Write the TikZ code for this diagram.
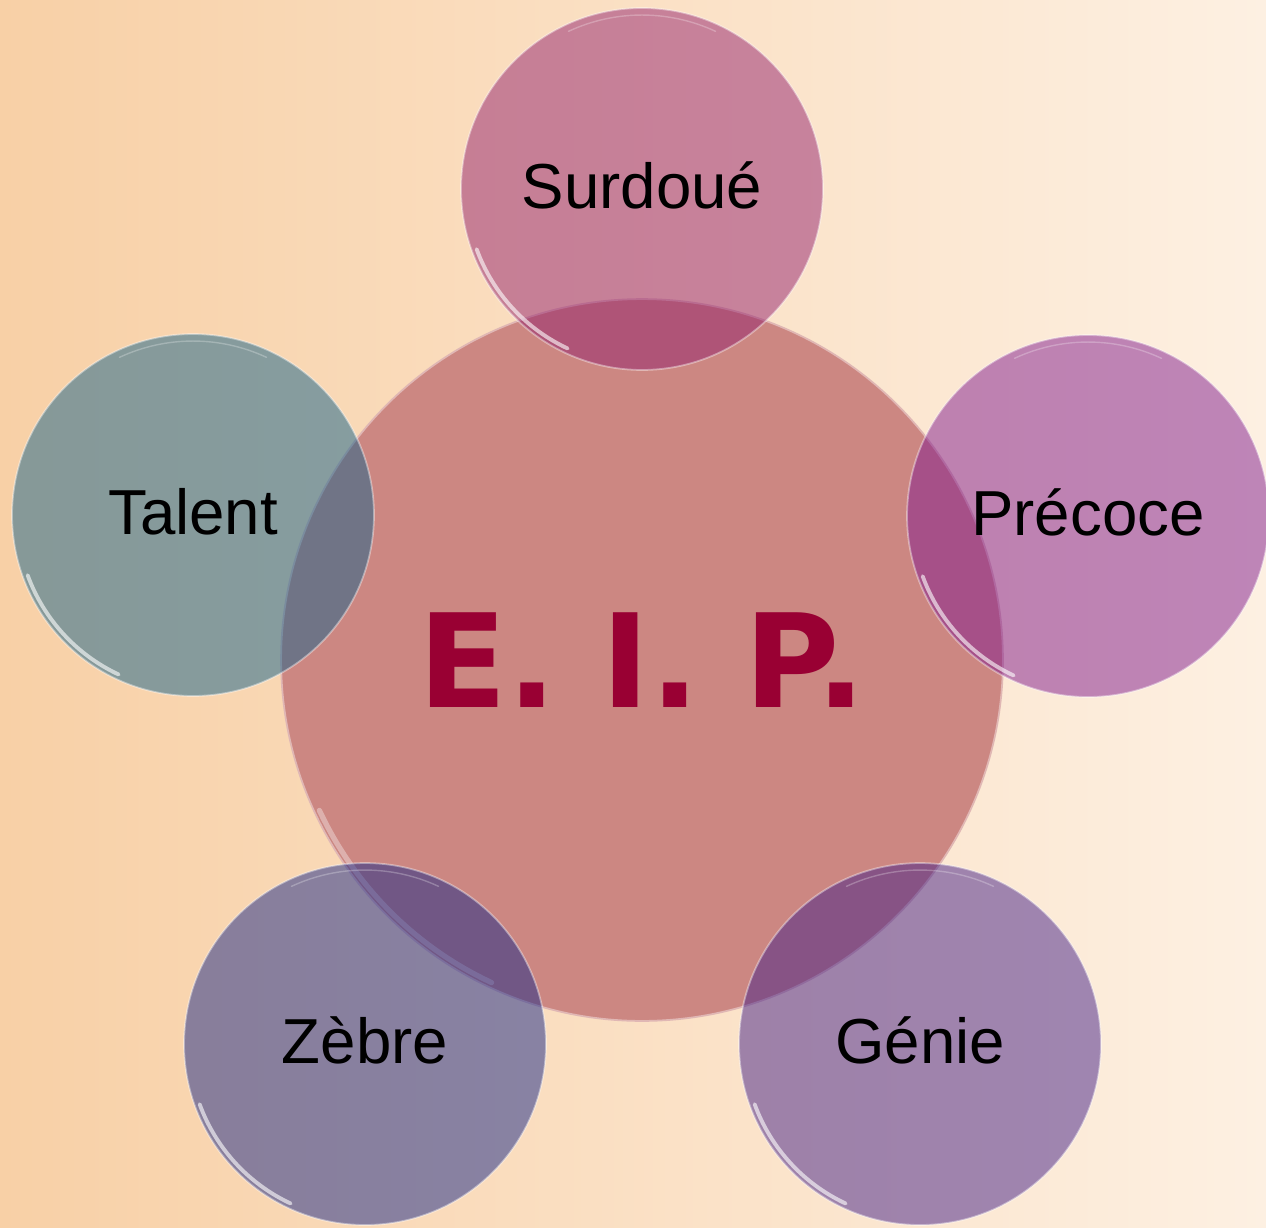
\documentclass[tikz,border=0pt]{standalone}
\usepackage{fontspec}
\setmainfont{Liberation Sans}
\newfontfamily\siglefont{DejaVu Sans}
\usepackage{tikz}
\definecolor{fondG}{HTML}{F8D0A6}
\definecolor{fondM}{HTML}{FCE7D4}
\definecolor{fondD}{HTML}{FDF0E2}
\definecolor{centre}{HTML}{CC8782}
\definecolor{sigle}{HTML}{990033}
\definecolor{surdoue}{HTML}{94226E}
\definecolor{precoce}{HTML}{811B8E}
\definecolor{talent}{HTML}{15628A}
\definecolor{zebre}{HTML}{182888}
\definecolor{genie}{HTML}{432088}
\newcommand{\bulle}[5]{\node[bulle, fill=#4] (#1) at (#2,#3) {#5};
  \draw[reflet] ([shift={(200:3.52cm)}]#1.center) arc[start angle=200, end angle=245, radius=3.52cm];
  \draw[reflet, line width=0.8pt, opacity=0.25] ([shift={(65:3.48cm)}]#1.center) arc[start angle=65, end angle=115, radius=3.48cm];}

\begin{document}
\begin{tikzpicture}[x=0.02cm, y=-0.02cm,
  bulle/.style={circle, minimum size=7.24cm, inner sep=0pt, text depth=0.16cm, fill opacity=0.5, text opacity=1, draw=white, draw opacity=0.4, line width=1pt, font=\fontsize{36.2}{40}\selectfont},
  reflet/.style={white, line width=2.2pt, line cap=round, opacity=0.6}]
    \useasboundingbox (0,0) rectangle (1266,1227);
    \shade[left color=fondG, middle color=fondM, right color=fondD] (0,0) rectangle (1266,1227);

    \node[circle, minimum size=14.44cm, inner sep=0pt, fill=centre, draw=centre!60!white, line width=1pt, text=sigle, font=\siglefont\bfseries\fontsize{74}{80}\selectfont] (eip) at (642,660) {E. I. P.};
    \draw[reflet, opacity=0.35, line width=3pt] ([shift={(205:7.12cm)}]eip.center) arc[start angle=205, end angle=245, radius=7.12cm];

    \bulle{surdoue}{642}{189}{surdoue}{Surdoué}
    \bulle{precoce}{1088}{516}{precoce}{Précoce}
    \bulle{talent}{193}{515}{talent}{Talent}
    \bulle{zebre}{365}{1044}{zebre}{Zèbre}
    \bulle{genie}{920}{1044}{genie}{Génie}
\end{tikzpicture}
\end{document}
